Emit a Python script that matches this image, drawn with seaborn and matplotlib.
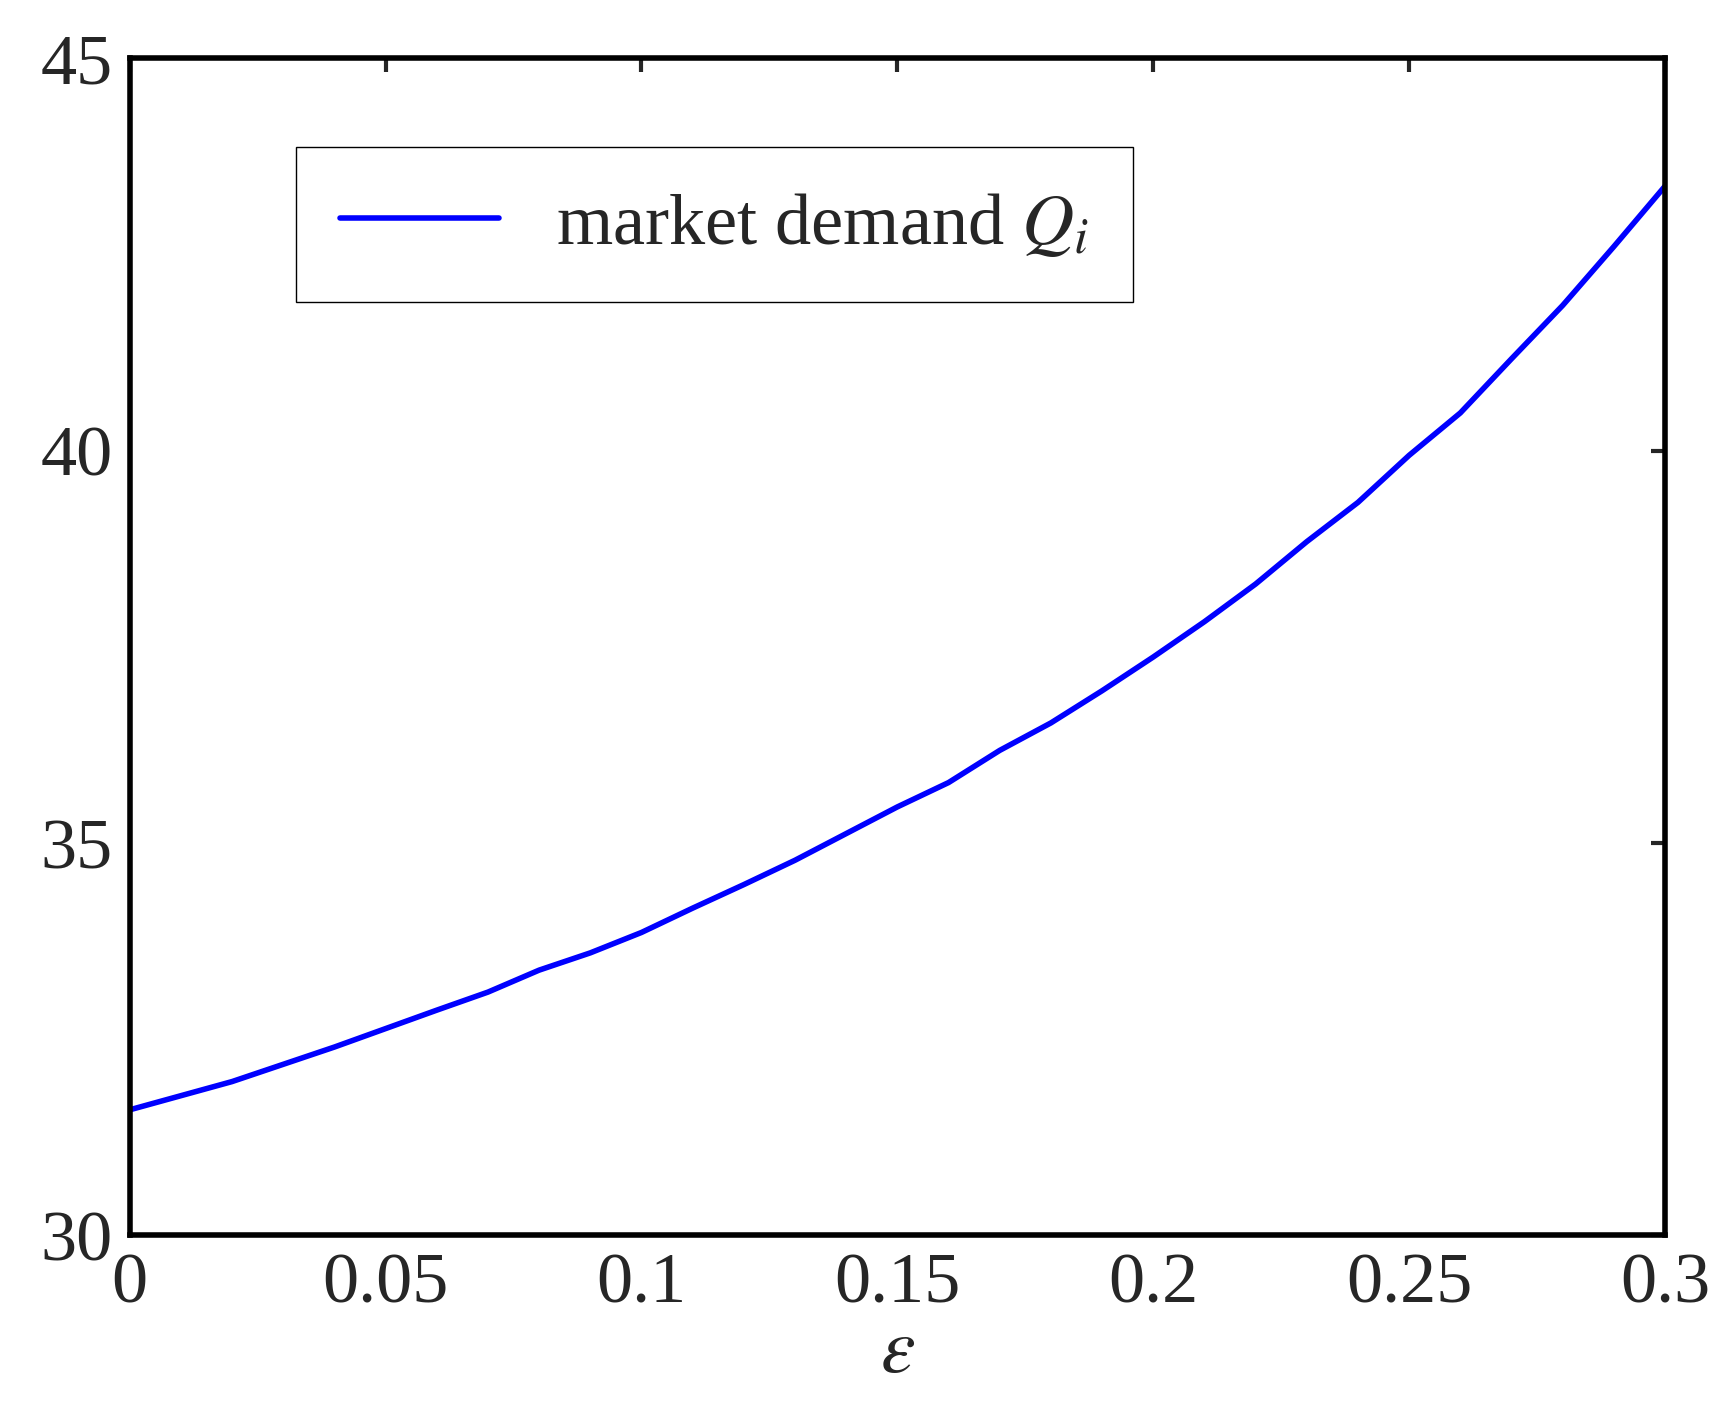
import matplotlib
matplotlib.use('Agg')
import matplotlib.pyplot as plt
import seaborn as sns
import pandas as pd

# ── Data ──────────────────────────────────────────────────────────────────────
eps = [0.0, 0.02, 0.04, 0.06, 0.07, 0.08, 0.09, 0.10, 0.11, 0.12, 0.13, 0.14,
       0.15, 0.16, 0.17, 0.18, 0.19, 0.20, 0.21, 0.22, 0.23, 0.24, 0.25, 0.26,
       0.27, 0.28, 0.29, 0.30]
demand = [31.6, 31.96, 32.4, 32.87, 33.1, 33.38, 33.6, 33.86, 34.17, 34.47, 34.78,
          35.12, 35.46, 35.77, 36.18, 36.53, 36.94, 37.37, 37.82, 38.3, 38.84,
          39.34, 39.94, 40.48, 41.17, 41.85, 42.6, 43.37]
xticks = [0, 0.05, 0.1, 0.15, 0.2, 0.25, 0.3]
xticklabels = ['0', '0.05', '0.1', '0.15', '0.2', '0.25', '0.3']
yticks = [30, 35, 40, 45]

df = pd.DataFrame({'eps': eps, 'Q': demand})

sns.set_style('white')
plt.rcParams['font.family'] = ['Liberation Serif', 'DejaVu Serif']
plt.rcParams['mathtext.fontset'] = 'stix'

fig = plt.figure(figsize=(17.29, 14.2), dpi=100)
ax = fig.add_axes([0.075, 0.13, 0.888, 0.829])

sns.lineplot(data=df, x='eps', y='Q', ax=ax, color='#0000ff', linewidth=4,
             label=r'market demand $Q_i$')

ax.set_xlim(0, 0.3)
ax.set_ylim(30, 45)
ax.set_xticks(xticks)
ax.set_xticklabels(xticklabels)
ax.set_yticks(yticks)
ax.tick_params(direction='in', length=10, width=3, labelsize=52,
               top=True, right=True, pad=12)
for s in ax.spines.values():
    s.set_linewidth(4)
    s.set_color('black')
ax.set_xlabel(r'$\varepsilon$', fontsize=56, labelpad=0)
ax.set_ylabel('')

leg = ax.legend(loc='upper left', bbox_to_anchor=(0.085, 0.955), fontsize=52,
                fancybox=False, framealpha=1, handlelength=2.2,
                borderpad=0.6)
leg.get_frame().set_edgecolor('black')
leg.get_frame().set_linewidth(1)

fig.savefig('out.png', dpi=100)
